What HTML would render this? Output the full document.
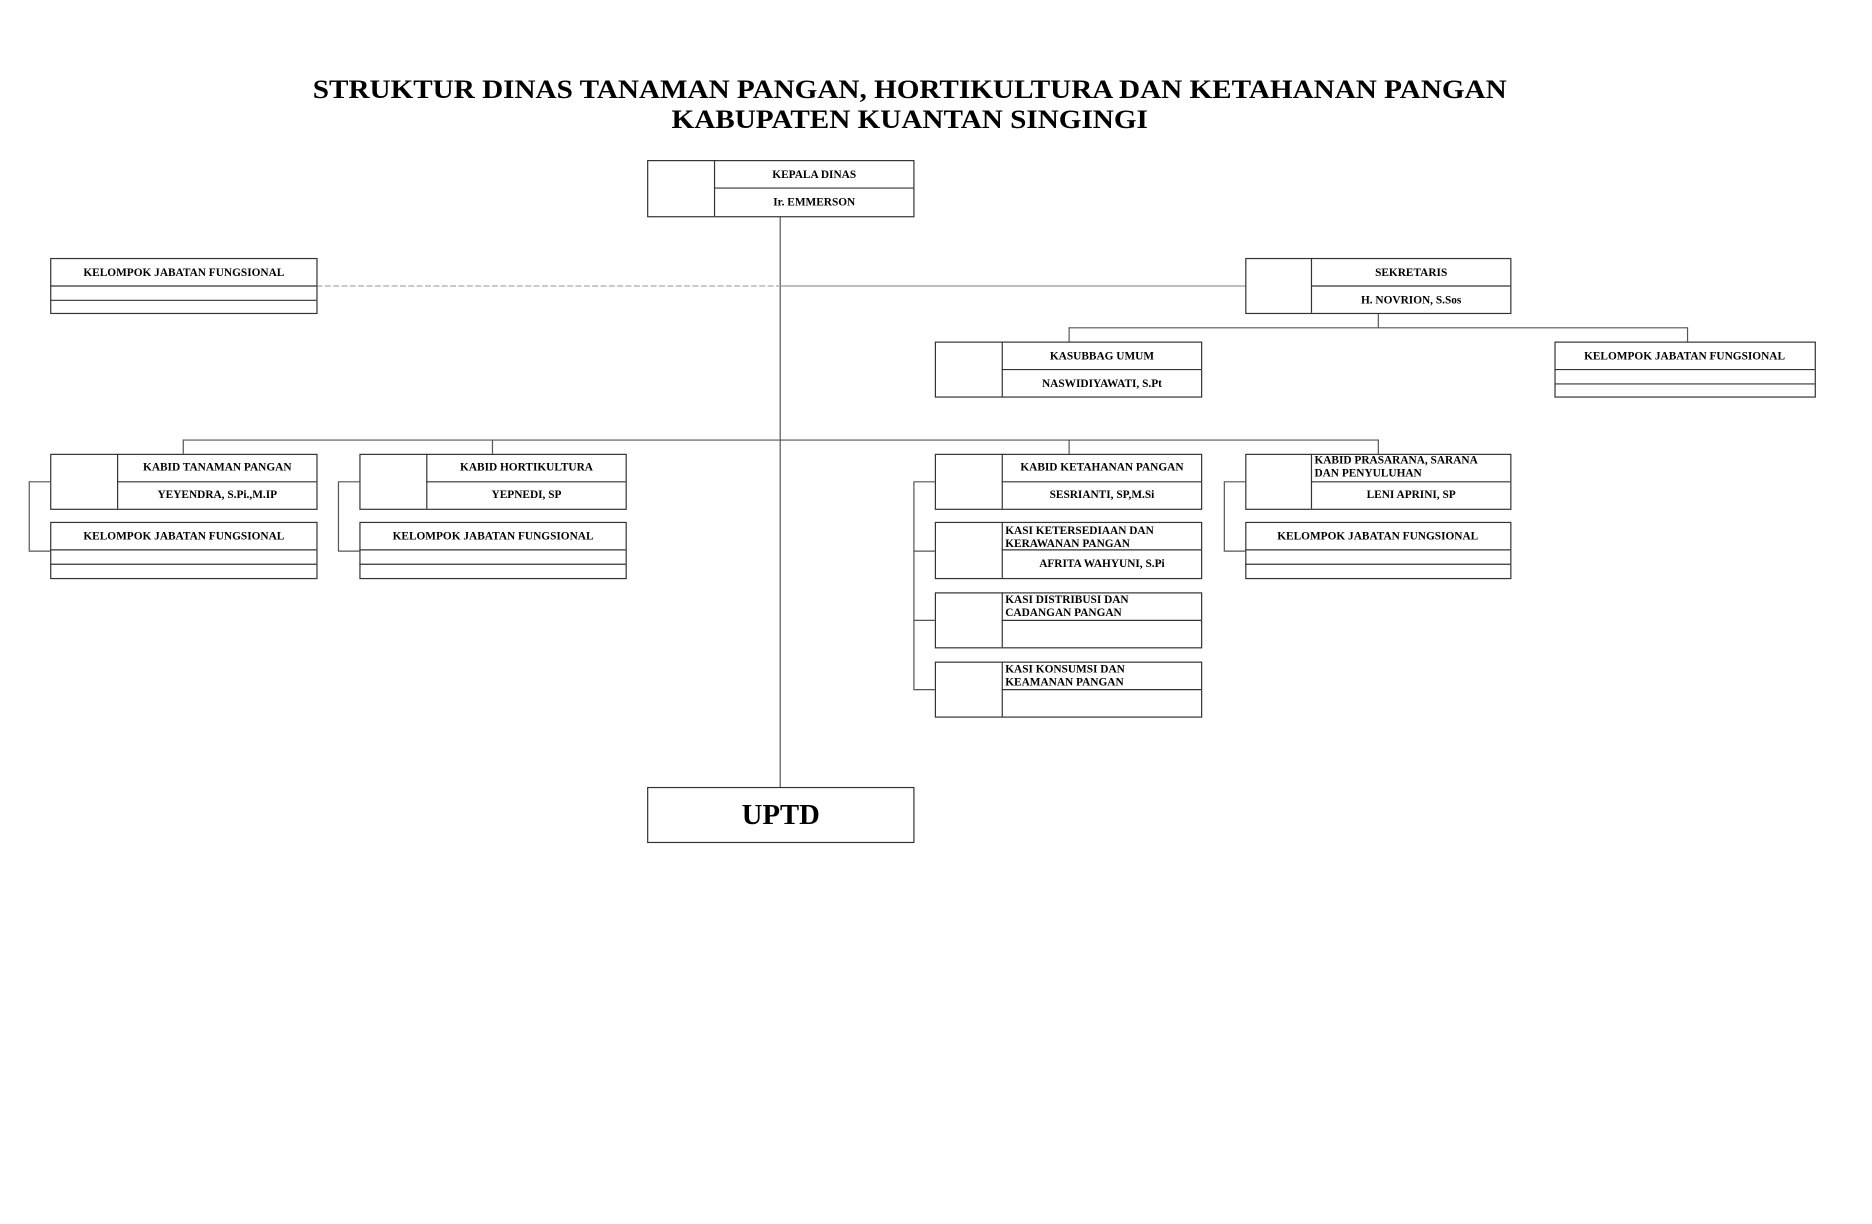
<!DOCTYPE html>
<html><head><meta charset="utf-8"><style>
html,body{margin:0;padding:0;background:#fff;}
svg{display:block;}
text{font-family:"Liberation Serif",serif;font-weight:bold;fill:#000;}
.s{font-size:9.5px;}
</style></head><body>
<svg width="1872" height="1224" viewBox="0 0 1568 1025" preserveAspectRatio="none" xmlns="http://www.w3.org/2000/svg">
<rect width="1568" height="1025" fill="#fff"/>
<text x="762" y="82" text-anchor="middle" font-size="22" textLength="1000" lengthAdjust="spacingAndGlyphs">STRUKTUR DINAS TANAMAN PANGAN, HORTIKULTURA DAN KETAHANAN PANGAN</text>
<text x="762" y="107" text-anchor="middle" font-size="22" textLength="399" lengthAdjust="spacingAndGlyphs">KABUPATEN KUANTAN SINGINGI</text>
<g stroke="#555" stroke-width="1" fill="none">
<line x1="653.5" y1="181" x2="653.5" y2="659"/>
<line x1="265" y1="239.5" x2="653" y2="239.5" stroke="#aaa" stroke-dasharray="5,2"/>
<line x1="653" y1="239.5" x2="1043" y2="239.5" stroke="#999"/>
<line x1="1154.5" y1="262" x2="1154.5" y2="274.5"/>
<line x1="895.5" y1="274.5" x2="1413.5" y2="274.5"/>
<line x1="895.5" y1="274" x2="895.5" y2="286"/>
<line x1="1413.5" y1="274" x2="1413.5" y2="286"/>
<line x1="153.5" y1="368.5" x2="1154.5" y2="368.5"/>
<line x1="153.5" y1="368" x2="153.5" y2="380"/>
<line x1="412.5" y1="368" x2="412.5" y2="380"/>
<line x1="895.5" y1="368" x2="895.5" y2="380"/>
<line x1="1154.5" y1="368" x2="1154.5" y2="380"/>
<polyline points="42,403.5 24.5,403.5 24.5,461.5 42,461.5"/>
<polyline points="301,403.5 283.5,403.5 283.5,461.5 301,461.5"/>
<polyline points="1043,403.5 1025.5,403.5 1025.5,461.5 1043,461.5"/>
<polyline points="783,403.5 765.5,403.5 765.5,577.5 783,577.5"/>
<line x1="765" y1="461.5" x2="783" y2="461.5"/>
<line x1="765" y1="519.5" x2="783" y2="519.5"/>
</g>
<g stroke="#333" stroke-width="1" fill="#fff">
<rect x="542.5" y="134.5" width="223" height="47"/><line x1="598.5" y1="134" x2="598.5" y2="181"/><line x1="598" y1="157.5" x2="765" y2="157.5"/>
<rect x="42.5" y="216.5" width="223" height="46"/><line x1="42" y1="239.5" x2="265" y2="239.5"/><line x1="42" y1="251.5" x2="265" y2="251.5"/>
<rect x="1043.5" y="216.5" width="222" height="46"/><line x1="1098.5" y1="216" x2="1098.5" y2="262"/><line x1="1098" y1="239.5" x2="1265" y2="239.5"/>
<rect x="783.5" y="286.5" width="223" height="46"/><line x1="839.5" y1="286" x2="839.5" y2="332"/><line x1="839" y1="309.5" x2="1006" y2="309.5"/>
<rect x="1302.5" y="286.5" width="218" height="46"/><line x1="1302" y1="309.5" x2="1520" y2="309.5"/><line x1="1302" y1="321.5" x2="1520" y2="321.5"/>
<rect x="42.5" y="380.5" width="223" height="46"/><line x1="98.5" y1="380" x2="98.5" y2="426"/><line x1="98" y1="403.5" x2="265" y2="403.5"/>
<rect x="42.5" y="437.5" width="223" height="47"/><line x1="42" y1="460.5" x2="265" y2="460.5"/><line x1="42" y1="472.5" x2="265" y2="472.5"/>
<rect x="301.5" y="380.5" width="223" height="46"/><line x1="357.5" y1="380" x2="357.5" y2="426"/><line x1="357" y1="403.5" x2="524" y2="403.5"/>
<rect x="301.5" y="437.5" width="223" height="47"/><line x1="301" y1="460.5" x2="524" y2="460.5"/><line x1="301" y1="472.5" x2="524" y2="472.5"/>
<rect x="783.5" y="380.5" width="223" height="46"/><line x1="839.5" y1="380" x2="839.5" y2="426"/><line x1="839" y1="403.5" x2="1006" y2="403.5"/>
<rect x="783.5" y="437.5" width="223" height="47"/><line x1="839.5" y1="437" x2="839.5" y2="484"/><line x1="839" y1="460.5" x2="1006" y2="460.5"/>
<rect x="783.5" y="496.5" width="223" height="46"/><line x1="839.5" y1="496" x2="839.5" y2="542"/><line x1="839" y1="519.5" x2="1006" y2="519.5"/>
<rect x="783.5" y="554.5" width="223" height="46"/><line x1="839.5" y1="554" x2="839.5" y2="600"/><line x1="839" y1="577.5" x2="1006" y2="577.5"/>
<rect x="1043.5" y="380.5" width="222" height="46"/><line x1="1098.5" y1="380" x2="1098.5" y2="426"/><line x1="1098" y1="403.5" x2="1265" y2="403.5"/>
<rect x="1043.5" y="437.5" width="222" height="47"/><line x1="1043" y1="460.5" x2="1265" y2="460.5"/><line x1="1043" y1="472.5" x2="1265" y2="472.5"/>
<rect x="542.5" y="659.5" width="223" height="46"/>
</g>
<g class="s" text-anchor="middle">
<text x="682" y="149">KEPALA DINAS</text>
<text x="682" y="172">Ir. EMMERSON</text>
<text x="154" y="231">KELOMPOK JABATAN FUNGSIONAL</text>
<text x="1182" y="231">SEKRETARIS</text>
<text x="1182" y="254">H. NOVRION, S.Sos</text>
<text x="923" y="301">KASUBBAG UMUM</text>
<text x="923" y="324">NASWIDIYAWATI, S.Pt</text>
<text x="1411" y="301">KELOMPOK JABATAN FUNGSIONAL</text>
<text x="182" y="394">KABID TANAMAN PANGAN</text>
<text x="182" y="417">YEYENDRA, S.Pi.,M.IP</text>
<text x="154" y="452">KELOMPOK JABATAN FUNGSIONAL</text>
<text x="441" y="394">KABID HORTIKULTURA</text>
<text x="441" y="417">YEPNEDI, SP</text>
<text x="413" y="452">KELOMPOK JABATAN FUNGSIONAL</text>
<text x="923" y="394">KABID KETAHANAN PANGAN</text>
<text x="923" y="417">SESRIANTI, SP,M.Si</text>
<text x="923" y="475">AFRITA WAHYUNI, S.Pi</text>
<text x="1182" y="417">LENI APRINI, SP</text>
<text x="1154" y="452">KELOMPOK JABATAN FUNGSIONAL</text>
</g>
<g class="s">
<text x="842" y="447">KASI KETERSEDIAAN DAN</text>
<text x="842" y="458">KERAWANAN PANGAN</text>
<text x="842" y="505">KASI DISTRIBUSI DAN</text>
<text x="842" y="516">CADANGAN PANGAN</text>
<text x="842" y="563">KASI KONSUMSI DAN</text>
<text x="842" y="574">KEAMANAN PANGAN</text>
<text x="1101" y="388">KABID PRASARANA, SARANA</text>
<text x="1101" y="399">DAN PENYULUHAN</text>
</g>
<text x="654" y="690" text-anchor="middle" font-size="24">UPTD</text>
</svg>
</body></html>
